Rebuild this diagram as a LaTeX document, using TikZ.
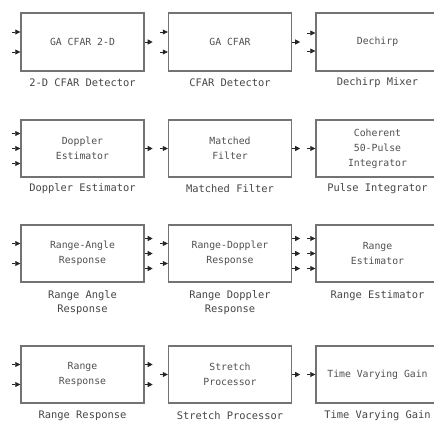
\documentclass[tikz,border=0pt]{standalone}
\usepackage{fontspec}
\newfontfamily\blkfont{DejaVu Sans Mono}
\usetikzlibrary{arrows.meta}
\definecolor{blkline}{RGB}{115,115,115}
\definecolor{blktext}{RGB}{80,80,80}
\definecolor{lbltext}{RGB}{70,70,70}
\begin{document}
\begin{tikzpicture}[x=1pt,y=-1pt,
  blk/.style={draw=blkline, line width=1.4pt, fill=white, minimum width=123pt, minimum height=57pt,
    inner sep=0pt, align=center, font=\blkfont\fontsize{9.8}{15}\selectfont, text=blktext},
  lbl/.style={font=\blkfont\fontsize{10.4}{14}\selectfont, text=lbltext, align=center, inner sep=0pt},
  port/.style={draw=black!85, line width=0.7pt, -{Triangle[length=5pt,width=5pt]}}]
\clip (0,0) rectangle (434,421);
\fill[white] (0,0) rectangle (434,421);
% blocks
\node[blk, minimum height=58pt] (b11) at (82.5,42) {GA CFAR 2-D};
\node[blk, minimum height=58pt] (b12) at (230,42) {GA CFAR};
\node[blk, minimum height=58pt] (b13) at (377.5,42) {Dechirp};
\node[blk] (b21) at (82.5,148.5) {Doppler\\Estimator};
\node[blk] (b22) at (230,148.5) {Matched\\Filter};
\node[blk] (b23) at (377.5,148.5) {Coherent\\50-Pulse\\Integrator};
\node[blk] (b31) at (82.5,253.5) {Range-Angle\\Response};
\node[blk] (b32) at (230,253.5) {Range-Doppler\\Response};
\node[blk] (b33) at (377.5,253.5) {Range\\Estimator};
\node[blk] (b41) at (82.5,374.5) {Range\\Response};
\node[blk] (b42) at (230,374.5) {Stretch\\Processor};
\node[blk] (b43) at (377.5,374.5) {Time Varying Gain};
% labels
\node[lbl] (l11) at (82.5,83) {2-D CFAR Detector};
\node[lbl] (l12) at (230,83) {CFAR Detector};
\node[lbl] (l13) at (377.5,83) {Dechirp Mixer};
\node[lbl] (l21) at (82.5,189) {Doppler Estimator};
\node[lbl] (l22) at (230,189) {Matched Filter};
\node[lbl] (l23) at (377.5,189) {Pulse Integrator};
\node[lbl] (l31) at (82.5,303) {Range Angle\\Response};
\node[lbl] (l32) at (230,303) {Range Doppler\\Response};
\node[lbl] (l33) at (377.5,296) {Range Estimator};
\node[lbl] (l41) at (82.5,416) {Range Response};
\node[lbl] (l42) at (230,416) {Stretch Processor};
\node[lbl] (l43) at (377.5,416) {Time Varying Gain};
% ports: inputs (left) and outputs (right), offsets relative to block centre
\foreach \b/\d in {b11/-10,b11/10,b12/-10,b12/10,b13/-9,b13/9,
                   b21/-15,b21/0,b21/15,b22/0,b23/0,
                   b31/-10,b31/10,b32/-10,b32/10,b33/-15,b33/0,b33/15,
                   b41/-10,b41/10,b42/0,b43/0}
  \draw[port] ([xshift=-8pt,yshift=-\d pt]\b.west) -- ([yshift=-\d pt]\b.west);
\foreach \b/\d in {b11/0,b12/0,b21/0,b22/0,
                   b31/-15,b31/0,b31/15,b32/-15,b32/0,b32/15,
                   b41/-10,b41/10,b42/0}
  \draw[port] ([yshift=-\d pt]\b.east) -- ([xshift=8pt,yshift=-\d pt]\b.east);
\end{tikzpicture}
\end{document}
